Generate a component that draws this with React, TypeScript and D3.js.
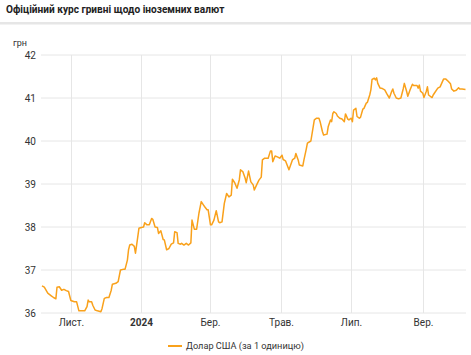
import React from "react";
import * as d3 from "d3";

const dates: string[] = [
  "2023-10-07","2023-10-09","2023-10-12","2023-10-15","2023-10-17","2023-10-19","2023-10-20","2023-10-22","2023-10-24","2023-10-26","2023-10-28","2023-10-30",
  "2023-11-01","2023-11-04","2023-11-06","2023-11-08","2023-11-10","2023-11-13","2023-11-15","2023-11-16","2023-11-17","2023-11-19","2023-11-20","2023-11-22","2023-11-24","2023-11-27","2023-11-28","2023-11-30",
  "2023-12-02","2023-12-04","2023-12-06","2023-12-07","2023-12-10","2023-12-12","2023-12-14","2023-12-17","2023-12-18","2023-12-20","2023-12-21","2023-12-22","2023-12-24","2023-12-26","2023-12-27","2023-12-28","2023-12-30",
  "2024-01-01","2024-01-03","2024-01-04","2024-01-06","2024-01-08","2024-01-10","2024-01-11","2024-01-13","2024-01-15","2024-01-16","2024-01-18","2024-01-20","2024-01-21","2024-01-23","2024-01-25","2024-01-27","2024-01-29","2024-01-30",
  "2024-02-01","2024-02-02","2024-02-04","2024-02-05","2024-02-07","2024-02-09","2024-02-11","2024-02-13","2024-02-14","2024-02-16","2024-02-18","2024-02-20","2024-02-22","2024-02-24","2024-02-25","2024-02-27","2024-02-28",
  "2024-03-01","2024-03-02","2024-03-04","2024-03-06","2024-03-08","2024-03-09","2024-03-11","2024-03-13","2024-03-15","2024-03-17","2024-03-19","2024-03-20","2024-03-22","2024-03-24","2024-03-26","2024-03-27","2024-03-29","2024-03-31",
  "2024-04-01","2024-04-03","2024-04-05","2024-04-07","2024-04-08","2024-04-10","2024-04-12","2024-04-14","2024-04-15","2024-04-17","2024-04-20","2024-04-22","2024-04-23","2024-04-24","2024-04-26","2024-04-28","2024-04-30",
  "2024-05-02","2024-05-03","2024-05-05","2024-05-07","2024-05-08","2024-05-11","2024-05-13","2024-05-14","2024-05-16","2024-05-17","2024-05-20","2024-05-21","2024-05-23","2024-05-24","2024-05-27","2024-05-29","2024-05-30",
  "2024-06-01","2024-06-03","2024-06-04","2024-06-06","2024-06-07","2024-06-10","2024-06-11","2024-06-13","2024-06-14","2024-06-15","2024-06-16","2024-06-18","2024-06-19","2024-06-21","2024-06-23","2024-06-25","2024-06-26","2024-06-28","2024-06-29",
  "2024-07-01","2024-07-02","2024-07-03","2024-07-05","2024-07-06","2024-07-08","2024-07-09","2024-07-11","2024-07-12","2024-07-14","2024-07-15","2024-07-17","2024-07-18","2024-07-19","2024-07-21","2024-07-22","2024-07-23","2024-07-24","2024-07-26","2024-07-28","2024-07-30",
  "2024-08-01","2024-08-03","2024-08-05","2024-08-06","2024-08-07","2024-08-09","2024-08-11","2024-08-13","2024-08-15","2024-08-16","2024-08-18","2024-08-19","2024-08-21","2024-08-23","2024-08-24","2024-08-27","2024-08-28","2024-08-29","2024-08-30",
  "2024-09-01","2024-09-02","2024-09-04","2024-09-05","2024-09-06","2024-09-09","2024-09-10","2024-09-11","2024-09-14","2024-09-16","2024-09-18","2024-09-19","2024-09-21","2024-09-23","2024-09-25","2024-09-26","2024-09-28","2024-09-30",
  "2024-10-02","2024-10-03","2024-10-05","2024-10-08"
];

const usdRates: number[] = [
  36.63,36.6,36.46,36.4,36.36,36.33,36.6,36.61,36.53,36.55,36.52,36.5,
  36.29,36.26,36.26,36.05,36.05,36.05,36.15,36.3,36.26,36.26,36.18,36.07,36.05,36.03,36.1,36.34,
  36.36,36.36,36.53,36.67,36.69,36.73,37.0,37.02,37.02,37.23,37.47,37.58,37.6,37.55,37.39,37.58,37.97,
  37.99,38.0,38.1,38.05,38.05,38.2,38.18,38.0,37.99,37.85,37.91,37.71,37.7,37.47,37.5,37.6,37.63,37.89,
  37.87,37.62,37.6,37.62,37.58,37.62,37.58,37.63,38.16,37.95,37.95,38.32,38.59,38.51,38.47,38.4,38.4,
  38.05,38.05,38.16,38.38,38.12,38.1,38.12,38.55,38.78,38.7,38.74,39.11,39.03,38.9,39.1,39.33,39.29,39.14,
  39.03,39.3,39.05,38.98,38.86,38.98,39.09,39.16,39.56,39.6,39.6,39.77,39.77,39.52,39.65,39.63,39.6,
  39.67,39.57,39.54,39.4,39.33,39.56,39.6,39.71,39.56,39.44,39.42,39.56,39.81,39.95,40.0,40.33,40.49,
  40.53,40.53,40.45,40.22,40.14,40.16,40.33,40.49,40.45,40.64,40.68,40.64,40.58,40.53,40.51,40.45,40.63,40.51,40.49,
  40.53,40.45,40.72,40.76,40.57,40.53,40.55,40.74,40.76,40.88,40.9,41.07,41.19,41.43,41.46,41.42,41.47,41.34,41.23,41.22,41.19,
  41.09,41.0,41.15,41.21,41.11,41.0,40.98,41.0,41.21,41.34,41.15,41.04,41.19,41.32,41.29,41.29,41.23,41.3,41.16,
  41.11,41.01,41.15,41.26,41.07,41.01,41.07,41.11,41.23,41.26,41.38,41.44,41.44,41.39,41.33,41.21,41.16,41.18,
  41.24,41.21,41.21,41.2
];

const yTicks: number[] = [36, 37, 38, 39, 40, 41, 42];
const xTickDates: string[] = ["2023-11-01", "2024-01-01", "2024-03-01", "2024-05-01", "2024-07-01", "2024-09-01"];
const xTickLabels: string[] = ["Лист.", "2024", "Бер.", "Трав.", "Лип.", "Вер."];
const title = "Офіційний курс гривні щодо іноземних валют";
const unitLabel = "грн";
const seriesName = "Долар США (за 1 одиницю)";

const W = 471;
const H = 355;
const FONT = "Roboto, 'Noto Sans', sans-serif";

export default function App() {
  const parse = d3.utcParse("%Y-%m-%d");
  const data = dates.map((d, i) => ({ date: parse(d) as Date, value: usdRates[i] }));
  const left = 41;
  const right = 466;
  const top = 55;
  const bottom = 313;

  const x = d3
    .scaleUtc()
    .domain([parse("2023-10-07") as Date, parse("2024-10-08") as Date])
    .range([left + 1, right - 0.5]);
  const y = d3.scaleLinear().domain([36, 42]).range([bottom, top]);

  const line = d3
    .line<{ date: Date; value: number }>()
    .x((d) => x(d.date))
    .y((d) => y(d.value))
    .curve(d3.curveLinear);

  const textColor = "#333333";
  const gridColor = "#e6e6e6";
  const lineColor = "#f9a11b";

  return (
    <svg
      width={W}
      height={H}
      style={{ position: "absolute", left: 0, top: 0, background: "#fff" }}
      fontFamily={FONT}
    >
      <text x={6} y={13} fontSize={10.1} fontWeight={700} fill="#222">
        {title}
      </text>
      <rect x={0} y={22} width={W} height={2.5} fill={gridColor} />

      <text x={13} y={46} fontSize={9} fill={textColor}>
        {unitLabel}
      </text>

      {yTicks.map((t) => (
        <g key={t}>
          <line x1={left} x2={right} y1={y(t)} y2={y(t)} stroke={gridColor} strokeWidth={1} />
          <text x={36} y={y(t)} dy="0.35em" textAnchor="end" fontSize={10} fill={textColor}>
            {t}
          </text>
        </g>
      ))}

      {xTickDates.map((d, i) => {
        const xx = Math.round(x(parse(d) as Date)) + 0.5;
        return (
          <g key={d}>
            <line x1={xx} x2={xx} y1={top} y2={bottom} stroke={gridColor} strokeWidth={1} />
            <text
              x={xx}
              y={326}
              textAnchor="middle"
              fontSize={10}
              fontWeight={xTickLabels[i] === "2024" ? 700 : 400}
              fill={textColor}
            >
              {xTickLabels[i]}
            </text>
          </g>
        );
      })}

      <path d={line(data) || ""} fill="none" stroke={lineColor} strokeWidth={1.5} strokeLinejoin="round" />

      <line x1={168} x2={182} y1={346} y2={346} stroke={lineColor} strokeWidth={2} />
      <text x={186} y={346} dy="0.35em" fontSize={9.2} fill={textColor}>
        {seriesName}
      </text>
    </svg>
  );
}
